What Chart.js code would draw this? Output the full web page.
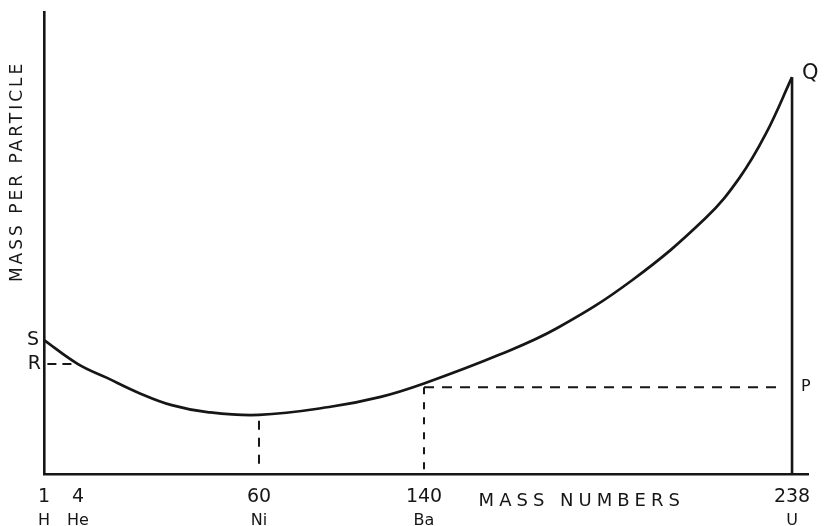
<!DOCTYPE html>
<html>
<head>
<meta charset="utf-8">
<script src="https://cdn.jsdelivr.net/npm/chart.js@4"></script>
<style>
  html, body { margin: 0; padding: 0; background: #fff; }
  #wrap { width: 825px; height: 526px; }
</style>
</head>
<body>
<div id="wrap"><canvas id="massChart"></canvas></div>
<script>
// Curve (mass number vs. mass per particle, arbitrary units)
const massNumbers = [1, 4, 13, 23, 33, 44, 60, 94, 119, 140, 160, 175.5, 195.5, 215, 224, 231, 238];
const massPerParticle = [29.0, 23.8, 20.8, 17.5, 14.9, 13.4, 12.8, 14.5, 16.7, 19.6, 25.8, 31.6, 42.0, 55.4, 64.1, 73.6, 85.9];

// Tick labels
const tickValues = [1, 4, 60, 140, 238];
const elementSymbols = ['H', 'He', 'Ni', 'Ba', 'U'];

// Marked levels
const levelS = 29.0;
const levelR = 23.8;
const levelP = 18.8;
const levelQ = 85.9;

const ink = '#161616';
const font = '"DejaVu Sans", sans-serif';

// the axis on the drawing is not to scale, so map mass numbers piecewise
class PiecewiseScale extends Chart.LinearScale {
    static id = 'piecewise';
    toFraction(v) {
        const stops = this.options.stops;
        if (v <= stops[0][0]) return stops[0][1];
        for (let i = 1; i < stops.length; i++) {
            const [v0, f0] = stops[i - 1];
            const [v1, f1] = stops[i];
            if (v <= v1) return f0 + (v - v0) / (v1 - v0) * (f1 - f0);
        }
        return stops[stops.length - 1][1];
    }
    getPixelForValue(value) {
        return value === null ? NaN : this.getPixelForDecimal(this.toFraction(value));
    }
}
Chart.register(PiecewiseScale);

const labelsPlugin = {
    id: 'sketchLabels',
    afterDraw(chart) {
        const ctx = chart.ctx;
        const x = chart.scales.x;
        const y = chart.scales.y;
        const area = chart.chartArea;
        ctx.save();
        ctx.fillStyle = ink;
        ctx.textBaseline = 'middle';

        // S and R on the left axis
        ctx.font = '19px ' + font;
        ctx.textAlign = 'right';
        ctx.fillText('S', area.left - 5, y.getPixelForValue(levelS));
        ctx.fillText('R', area.left - 3, y.getPixelForValue(levelR));

        // Q and P on the right
        ctx.textAlign = 'left';
        ctx.font = '21px ' + font;
        ctx.fillText('Q', x.getPixelForValue(238) + 10, y.getPixelForValue(levelQ) - 4);
        ctx.font = '16px ' + font;
        ctx.fillText('P', x.getPixelForValue(238) + 9, y.getPixelForValue(levelP));

        // element symbols under the mass numbers
        ctx.textAlign = 'center';
        ctx.font = '16px ' + font;
        tickValues.forEach((v, i) => {
            ctx.fillText(elementSymbols[i], x.getPixelForValue(v), area.bottom + 47);
        });

        // axis titles
        ctx.font = '18px ' + font;
        ctx.letterSpacing = '5px';
        ctx.fillText('MASS NUMBERS', x.getPixelForValue(182), area.bottom + 27);
        ctx.font = '17px ' + font;
        ctx.letterSpacing = '3px';
        ctx.translate(area.left - 26, y.getPixelForValue(65.5));
        ctx.rotate(-Math.PI / 2);
        ctx.fillText('MASS PER PARTICLE', 0, 0);
        ctx.restore();
    }
};

const line = (points, dash, width) => ({
    data: points,
    showLine: true,
    borderColor: ink,
    borderWidth: width,
    borderDash: dash,
    pointRadius: 0,
    fill: false
});

new Chart(document.getElementById('massChart'), {
    type: 'scatter',
    data: {
        datasets: [
            Object.assign(line(massNumbers.map((m, i) => ({ x: m, y: massPerParticle[i] })), [], 2.7),
                { tension: 0.4 }),
            line([{ x: 238, y: 0 }, { x: 238, y: levelQ }], [], 2.6),
            line([{ x: 140, y: levelP }, { x: 235, y: levelP }], [10, 8], 2),
            line([{ x: 140, y: levelP }, { x: 140, y: 1 }], [7, 8], 2),
            line([{ x: 60, y: 11.5 }, { x: 60, y: 2 }], [9, 8], 2),
            line([{ x: 1.3, y: levelR }, { x: 4, y: levelR }], [9, 6], 2)
        ]
    },
    options: {
        responsive: true,
        maintainAspectRatio: false,
        animation: false,
        events: [],
        layout: { padding: { left: 44, top: 12, right: 17, bottom: 0 } },
        plugins: {
            legend: { display: false },
            tooltip: { enabled: false }
        },
        scales: {
            x: {
                type: 'piecewise',
                min: 1,
                max: 242,
                stops: [[1, 0], [4, 0.0445], [60, 0.2814], [140, 0.4974], [238, 0.9791], [242, 1]],
                grid: { display: false, drawTicks: false },
                border: { display: true, color: ink, width: 2.6 },
                afterBuildTicks: scale => { scale.ticks = tickValues.map(v => ({ value: v })); },
                afterFit: scale => { scale.height = 52; },
                ticks: {
                    autoSkip: false,
                    maxRotation: 0,
                    padding: 12,
                    color: ink,
                    font: { family: font, size: 19 },
                    callback: value => String(value)
                }
            },
            y: {
                min: 0,
                max: 100,
                grid: { display: false, drawTicks: false },
                border: { display: true, color: ink, width: 2.6 },
                ticks: { display: false },
                afterFit: scale => { scale.width = 0; }
            }
        }
    },
    plugins: [labelsPlugin]
});
</script>
</body>
</html>
